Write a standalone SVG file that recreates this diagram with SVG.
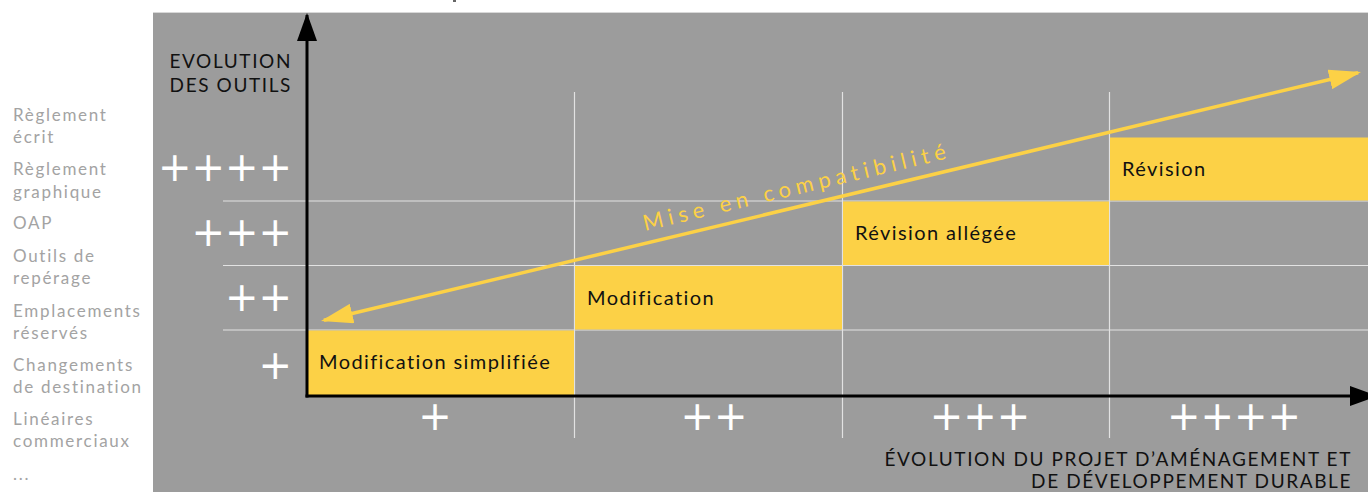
<svg xmlns="http://www.w3.org/2000/svg" width="1368" height="492" viewBox="0 0 1368 492">
  <style>
    .side { font-family: Lato, "Open Sans", sans-serif; font-size: 17px; fill: #a3a3a3; letter-spacing: 1.7px; }
    .axis-title { font-family: Lato, "Open Sans", sans-serif; font-size: 19px; fill: #111; letter-spacing: 1.6px; }
    .plus { font-family: "DejaVu Sans", sans-serif; font-size: 40px; fill: #ffffff; }
    .step { fill: #fcd146; }
    .step-label { font-family: Lato, "Open Sans", sans-serif; font-size: 20px; fill: #111; letter-spacing: 1.4px; }
    .grid { stroke: #e2e2e2; stroke-width: 1.2; fill: none; }
    .axis { stroke: #000; stroke-width: 3; fill: none; }
    .trend { stroke: #fcd146; stroke-width: 3.5; fill: none; }
    .trend-label { font-family: Lato, "Open Sans", sans-serif; font-size: 22px; fill: #fcd146; letter-spacing: 5.2px; }
  </style>
  <defs>
    <marker id="headBlack" viewBox="0 0 28 20" refX="26" refY="10" markerWidth="28" markerHeight="20" markerUnits="userSpaceOnUse" orient="auto">
      <path d="M0,0 L28,10 L0,20 Z" fill="#000"/>
    </marker>
    <marker id="headYellow" viewBox="0 0 32 20" refX="29" refY="10" markerWidth="32" markerHeight="20" markerUnits="userSpaceOnUse" orient="auto-start-reverse">
      <path d="M0,0 L32,10 L0,20 Z" fill="#fcd146"/>
    </marker>
  </defs>

  <rect width="1368" height="492" fill="#ffffff"/>
  <rect x="453" y="0" width="3" height="2" fill="#666"/>
  <!-- chart panel -->
  <rect x="153" y="12" width="1215" height="480" fill="#9c9c9c"/>
  <line x1="153" y1="12.5" x2="1368" y2="12.5" stroke="#d8d8d8" stroke-width="1"/>

  <!-- list of planning tools -->
  <g id="tool-list">
    <text class="side" x="13" y="121">Règlement</text>
    <text class="side" x="13" y="143">écrit</text>
    <text class="side" x="13" y="175">Règlement</text>
    <text class="side" x="13" y="198">graphique</text>
    <text class="side" x="13" y="229">OAP</text>
    <text class="side" x="13" y="262">Outils de</text>
    <text class="side" x="13" y="284">repérage</text>
    <text class="side" x="13" y="317">Emplacements</text>
    <text class="side" x="13" y="339">réservés</text>
    <text class="side" x="13" y="371">Changements</text>
    <text class="side" x="13" y="393">de destination</text>
    <text class="side" x="13" y="425">Linéaires</text>
    <text class="side" x="13" y="447">commerciaux</text>
    <text class="side" x="13" y="480">...</text>
  </g>

  <!-- grid -->
  <g id="grid">
    <line class="grid" x1="223" y1="201" x2="1368" y2="201"/>
    <line class="grid" x1="223" y1="265.5" x2="1368" y2="265.5"/>
    <line class="grid" x1="223" y1="330" x2="1368" y2="330"/>
    <line class="grid" x1="574.5" y1="92" x2="574.5" y2="438"/>
    <line class="grid" x1="842.5" y1="92" x2="842.5" y2="438"/>
    <line class="grid" x1="1109.5" y1="92" x2="1109.5" y2="438"/>
  </g>

  <!-- procedure steps -->
  <g id="modification-simplifiee">
    <rect class="step" x="308" y="330.5" width="266" height="65"/>
    <text class="step-label" x="319" y="369">Modification simplifiée</text>
  </g>
  <g id="modification">
    <rect class="step" x="575" y="266" width="267" height="63.5"/>
    <text class="step-label" x="587" y="305">Modification</text>
  </g>
  <g id="revision-allegee">
    <rect class="step" x="843" y="201.5" width="266" height="63.5"/>
    <text class="step-label" x="855" y="240">Révision allégée</text>
  </g>
  <g id="revision">
    <rect class="step" x="1110" y="137.5" width="258" height="63"/>
    <text class="step-label" x="1122" y="176">Révision</text>
  </g>

  <!-- scale marks -->
  <g id="tool-scale">
    <text class="plus" x="292" y="181" text-anchor="end">++++</text>
    <text class="plus" x="292" y="246" text-anchor="end">+++</text>
    <text class="plus" x="292" y="311" text-anchor="end">++</text>
    <text class="plus" x="292" y="379" text-anchor="end">+</text>
  </g>
  <g id="project-scale">
    <text class="plus" x="435" y="430" text-anchor="middle">+</text>
    <text class="plus" x="714" y="430" text-anchor="middle">++</text>
    <text class="plus" x="980" y="430" text-anchor="middle">+++</text>
    <text class="plus" x="1234" y="430" text-anchor="middle">++++</text>
  </g>

  <!-- axis titles -->
  <g id="y-axis-title">
    <text class="axis-title" x="292" y="68" text-anchor="end">EVOLUTION</text>
    <text class="axis-title" x="292" y="92" text-anchor="end">DES OUTILS</text>
  </g>
  <g id="x-axis-title">
    <text class="axis-title" x="1352" y="466" text-anchor="end">ÉVOLUTION DU PROJET D’AMÉNAGEMENT ET</text>
    <text class="axis-title" x="1352" y="488" text-anchor="end">DE DÉVELOPPEMENT DURABLE</text>
  </g>

  <!-- connectors: axes and compatibility trend -->
  <g id="connectors">
    <line class="axis" x1="307" y1="397.5" x2="307" y2="15" marker-end="url(#headBlack)"/>
    <line class="axis" x1="305.5" y1="396" x2="1376" y2="396" marker-end="url(#headBlack)"/>
    <line class="trend" x1="323.9" y1="320.3" x2="1358.1" y2="72.7" marker-start="url(#headYellow)" marker-end="url(#headYellow)"/>
  </g>
  <g id="trend-label">
    <text class="trend-label" x="645" y="231" transform="rotate(-13.47 645 231)">Mise en compatibilité</text>
  </g>
</svg>
